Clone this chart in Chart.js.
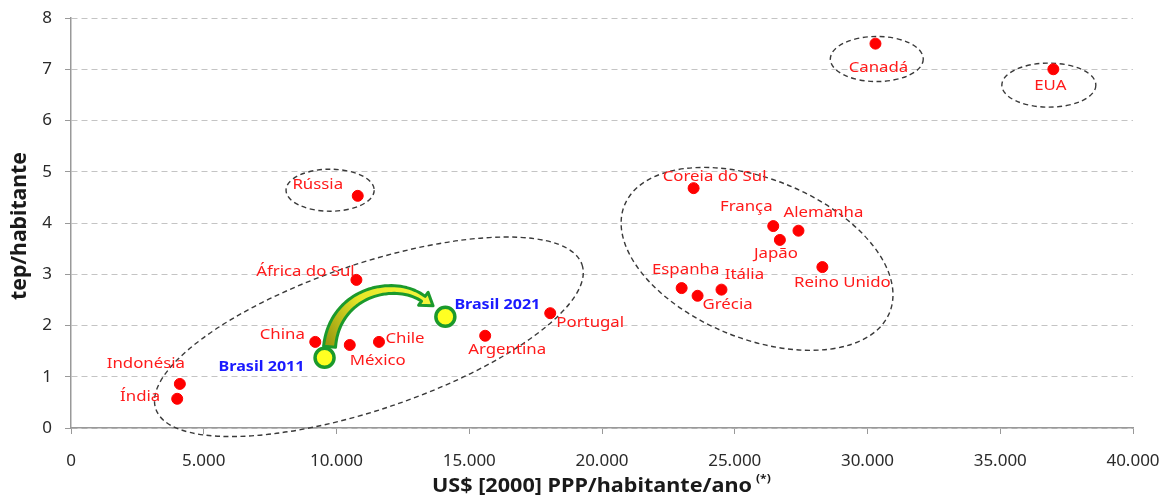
<!DOCTYPE html>
<html lang="pt">
<head>
    <meta charset="UTF-8">
    <title>Energia per capita x PIB per capita</title>
    <script src="https://cdn.jsdelivr.net/npm/chart.js"></script>
    <style>
        html, body { margin: 0; padding: 0; background: #fff; }
        #wrap { width: 1165px; height: 498px; }
    </style>
</head>
<body>
    <div id="wrap"><canvas id="chart"></canvas></div>

    <script>
        // dados
        const countries = ["Canadá", "EUA", "Rússia", "Coreia do Sul", "França", "Alemanha", "Japão",
            "Reino Unido", "Espanha", "Itália", "Grécia", "Portugal", "Argentina", "África do Sul",
            "China", "México", "Chile", "Indonésia", "Índia"];
        const gdpPerCapita = [30300, 37000, 10800, 23450, 26450, 27400, 26700,
            28300, 23000, 24500, 23600, 18050, 15600, 10750,
            9200, 10500, 11600, 4100, 4000];
        const energyPerCapita = [7.50, 7.00, 4.53, 4.68, 3.94, 3.85, 3.67,
            3.14, 2.73, 2.70, 2.58, 2.24, 1.80, 2.89,
            1.68, 1.62, 1.68, 0.86, 0.57];

        const brasilLabels = ["Brasil 2011", "Brasil 2021"];
        const brasilGdp = [9550, 14100];
        const brasilEnergy = [1.37, 2.17];

        const xTicks = [0, 5000, 10000, 15000, 20000, 25000, 30000, 35000, 40000];
        const yTicks = [0, 1, 2, 3, 4, 5, 6, 7, 8];

        // posicao dos rotulos (px em relacao ao ponto)
        const labelOffsets = [[3, 24], [-3, 16], [-40, -11], [21, -11], [-27, -19], [25, -18], [-4, 14],
            [20, 16], [4, -18], [23, -15], [30, 9], [40, 10], [22, 14], [-51, -8],
            [-33, -7], [28, 16], [26, -3], [-34, -20], [-37, -2]];
        const brasilOffsets = [[-63, 9], [52, -12]];

        // elipses tracejadas: centro (dados), raios (unidades de eixo), rotacao (graus)
        const groups = [
            { cx: 30350, cy: 7.20, rx: 1750, ry: 0.44, rot: 0 },
            { cx: 36830, cy: 6.69, rx: 1770, ry: 0.43, rot: 0 },
            { cx: 9760, cy: 4.64, rx: 1660, ry: 0.41, rot: 0 },
            { cx: 11220, cy: 1.78, rx: 8475, ry: 1.42, rot: -18.7 },
            { cx: 25840, cy: 3.30, rx: 5386, ry: 1.56, rot: 22 }
        ];

        const FONT = "'Noto Sans', 'Open Sans', sans-serif";

        // texto esticado na horizontal (o original e mais largo)
        function wideText(ctx, text, x, y, sx) {
            ctx.save();
            ctx.translate(x, y);
            ctx.scale(sx, 1);
            ctx.fillText(text, 0, 0);
            ctx.restore();
        }

        function bez(p0, p1, p2, p3, t) {
            const u = 1 - t;
            return u * u * u * p0 + 3 * u * u * t * p1 + 3 * u * t * t * p2 + t * t * t * p3;
        }
        function bezD(p0, p1, p2, p3, t) {
            const u = 1 - t;
            return 3 * u * u * (p1 - p0) + 6 * u * t * (p2 - p1) + 3 * t * t * (p3 - p2);
        }

        const decorPlugin = {
            id: "decor",
            beforeDatasetsDraw(chart) {
                const { ctx, scales: { x, y } } = chart;
                ctx.save();
                ctx.strokeStyle = "#3a3a3a";
                ctx.lineWidth = 1.4;
                ctx.setLineDash([5, 3.5]);
                groups.forEach(g => {
                    const px = x.getPixelForValue(g.cx);
                    const py = y.getPixelForValue(g.cy);
                    const rx = Math.abs(x.getPixelForValue(g.cx + g.rx) - px);
                    const ry = Math.abs(y.getPixelForValue(g.cy + g.ry) - py);
                    ctx.beginPath();
                    ctx.ellipse(px, py, rx, ry, g.rot * Math.PI / 180, 0, Math.PI * 2);
                    ctx.stroke();
                });
                ctx.restore();

                // seta verde Brasil 2011 -> 2021
                const x0 = x.getPixelForValue(brasilGdp[0]), y0 = y.getPixelForValue(brasilEnergy[0]);
                const x1 = x.getPixelForValue(brasilGdp[1]), y1 = y.getPixelForValue(brasilEnergy[1]);
                const P = [[x0 + 5, y0 - 11], [x0 + 10, y0 - 66], [x0 + 70, y0 - 80], [x1 - 22, y1 - 18]];
                const N = 40, left = [], right = [];
                for (let i = 0; i <= N; i++) {
                    const t = i / N;
                    const bx = bez(P[0][0], P[1][0], P[2][0], P[3][0], t);
                    const by = bez(P[0][1], P[1][1], P[2][1], P[3][1], t);
                    const dx = bezD(P[0][0], P[1][0], P[2][0], P[3][0], t);
                    const dy = bezD(P[0][1], P[1][1], P[2][1], P[3][1], t);
                    const len = Math.hypot(dx, dy) || 1;
                    const nx = -dy / len, ny = dx / len;
                    const w = 6 - 3 * t;
                    left.push([bx + nx * w, by + ny * w]);
                    right.push([bx - nx * w, by - ny * w]);
                }
                const tdx = bezD(P[0][0], P[1][0], P[2][0], P[3][0], 1);
                const tdy = bezD(P[0][1], P[1][1], P[2][1], P[3][1], 1);
                const tl = Math.hypot(tdx, tdy);
                const ux = tdx / tl, uy = tdy / tl, nx = -uy, ny = ux;
                const ex = P[3][0], ey = P[3][1];
                const grad = ctx.createLinearGradient(P[0][0], P[0][1], ex, ey);
                grad.addColorStop(0, "#9a9a10");
                grad.addColorStop(0.45, "#e6e628");
                grad.addColorStop(1, "#f4f43a");
                ctx.save();
                ctx.beginPath();
                ctx.moveTo(left[0][0], left[0][1]);
                left.forEach(p => ctx.lineTo(p[0], p[1]));
                ctx.lineTo(ex + nx * 8, ey + ny * 8);
                ctx.lineTo(ex + ux * 12, ey + uy * 12);
                ctx.lineTo(ex - nx * 8, ey - ny * 8);
                for (let i = right.length - 1; i >= 0; i--) ctx.lineTo(right[i][0], right[i][1]);
                ctx.closePath();
                ctx.fillStyle = grad;
                ctx.fill();
                ctx.strokeStyle = "#1b9a2c";
                ctx.lineWidth = 3;
                ctx.lineJoin = "round";
                ctx.stroke();
                ctx.restore();
            },
            afterDraw(chart) {
                const { ctx, scales: { x, y } } = chart;
                ctx.save();
                ctx.textAlign = "center";
                ctx.textBaseline = "middle";
                ctx.font = "15px " + FONT;
                ctx.fillStyle = "#ff1a1a";
                countries.forEach((name, i) => {
                    const px = x.getPixelForValue(gdpPerCapita[i]);
                    const py = y.getPixelForValue(energyPerCapita[i]);
                    wideText(ctx, name, px + labelOffsets[i][0], py + labelOffsets[i][1], 1.12);
                });
                ctx.font = "bold 14px " + FONT;
                ctx.fillStyle = "#1a1aff";
                brasilLabels.forEach((name, i) => {
                    const px = x.getPixelForValue(brasilGdp[i]);
                    const py = y.getPixelForValue(brasilEnergy[i]);
                    wideText(ctx, name, px + brasilOffsets[i][0], py + brasilOffsets[i][1], 1.15);
                });

                // titulos dos eixos
                ctx.fillStyle = "#1a1a1a";
                ctx.font = "bold 19px " + FONT;
                const xt = "US$ [2000] PPP/habitante/ano";
                const sx = 320 / ctx.measureText(xt).width;
                wideText(ctx, xt, 592, 487, sx);
                ctx.font = "bold 11px " + FONT;
                ctx.textAlign = "left";
                wideText(ctx, "(*)", 756, 479, 1.1);

                ctx.font = "bold 20px " + FONT;
                ctx.textAlign = "center";
                const yt = "tep/habitante";
                const sy = 148 / ctx.measureText(yt).width;
                ctx.translate(20, 226);
                ctx.rotate(-Math.PI / 2);
                ctx.scale(sy, 1.08);
                ctx.fillText(yt, 0, 0);
                ctx.restore();
            }
        };

        new Chart(document.getElementById("chart"), {
            type: "scatter",
            data: {
                datasets: [
                    {
                        label: "Países",
                        data: countries.map((c, i) => ({ x: gdpPerCapita[i], y: energyPerCapita[i] })),
                        backgroundColor: "#ff0000",
                        borderColor: "#ff0000",
                        pointRadius: 5.5,
                        pointHoverRadius: 5.5
                    },
                    {
                        label: "Brasil",
                        data: brasilLabels.map((c, i) => ({ x: brasilGdp[i], y: brasilEnergy[i] })),
                        backgroundColor: "#ffff22",
                        borderColor: "#1b9a2c",
                        borderWidth: 3.5,
                        pointRadius: 9.5,
                        pointHoverRadius: 9.5
                    }
                ]
            },
            options: {
                responsive: true,
                maintainAspectRatio: false,
                animation: false,
                layout: { padding: { top: 18, right: 32, left: 0, bottom: 0 } },
                plugins: {
                    legend: { display: false },
                    tooltip: { enabled: false }
                },
                scales: {
                    x: {
                        type: "linear",
                        min: 0,
                        max: 40000,
                        afterBuildTicks: s => { s.ticks = xTicks.map(v => ({ value: v })); },
                        afterFit: s => { s.height = 70; s.paddingLeft = 0; s.paddingRight = 0; },
                        grid: { drawOnChartArea: false, drawTicks: true, tickLength: 6, tickColor: "#999" },
                        border: { color: "#999", width: 1.5 },
                        ticks: {
                            color: "#2a2a2a",
                            font: { family: FONT, size: 17 },
                            padding: 17,
                            maxRotation: 0,
                            callback: v => v.toLocaleString("pt-BR")
                        }
                    },
                    y: {
                        type: "linear",
                        min: 0,
                        max: 8,
                        afterBuildTicks: s => { s.ticks = yTicks.map(v => ({ value: v })); },
                        afterFit: s => { s.width = 71; s.paddingTop = 0; s.paddingBottom = 0; },
                        grid: {
                            color: "#c4c4c4",
                            lineWidth: 1,
                            tickLength: 6,
                            tickColor: "#999"
                        },
                        border: { color: "#999", width: 1.5, dash: [6, 4] },
                        ticks: {
                            color: "#2a2a2a",
                            font: { family: FONT, size: 17 },
                            padding: 13
                        }
                    }
                }
            },
            plugins: [decorPlugin]
        });
    </script>
</body>
</html>
